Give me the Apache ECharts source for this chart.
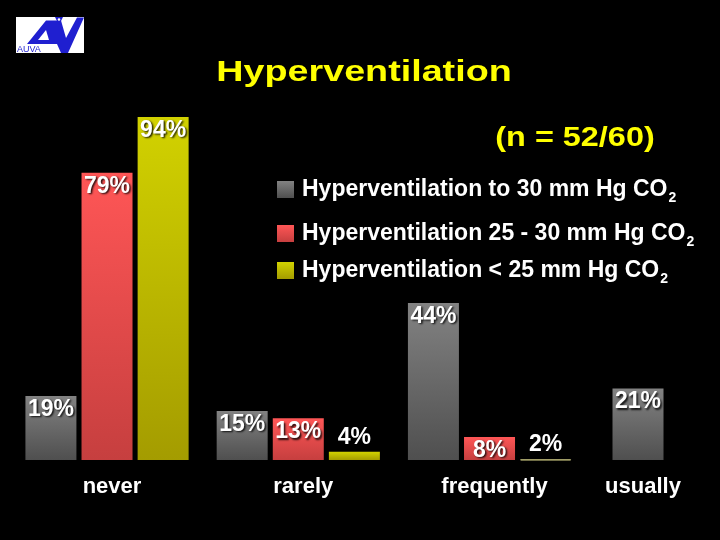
<!DOCTYPE html>
<html>
<head>
<meta charset="utf-8">
<script src="https://cdn.jsdelivr.net/npm/echarts@6/dist/echarts.min.js"></script>
<style>html,body{margin:0;padding:0;background:#000;}#c{width:720px;height:540px;}</style>
</head>
<body>
<div id="c"></div>
<script>
// ---- data ----
var categories = ['never', 'rarely', 'frequently'];
var extraCategory = ['usually'];
var seriesNames = ['Hyperventilation to 30 mm Hg CO2', 'Hyperventilation 25 - 30 mm Hg CO2', 'Hyperventilation < 25 mm Hg CO2'];
var greyValues = [19, 15, 44];
var redValues = [79, 13, 8];
var yellowValues = [94, 4, 2];
var usuallyGrey = [21];
var titleText = 'Hyperventilation';
var subtitleText = '(n = 52/60)';

// ---- styles ----
var FONT = 'Liberation Sans, Arial, sans-serif';
function grad(top, bottom) {
  return new echarts.graphic.LinearGradient(0, 0, 0, 1, [{offset: 0, color: top}, {offset: 1, color: bottom}]);
}
var colors = [grad('#828282', '#4f4f4f'), grad('#ff5656', '#c63f3f'), grad('#d2d200', '#a49c00')];
var thinColors = ['#6a6a6a', '#d04848', '#b2ae72'];

function labelFor(v) {
  return {
    show: true,
    position: v < 6 ? 'top' : 'insideTop',
    distance: v < 6 ? 3 : 2,
    formatter: '{c}%',
    color: '#fff',
    fontFamily: FONT,
    fontWeight: 'bold',
    fontSize: 23,
    textShadowColor: 'rgba(0,0,0,0.85)',
    textShadowBlur: 2,
    textShadowOffsetX: 1.5,
    textShadowOffsetY: 1.5
  };
}
function toData(arr, si) {
  return arr.map(function (v) {
    var d = {value: v, label: labelFor(v)};
    if (v < 3) d.itemStyle = {color: thinColors[si], borderColor: thinColors[si], borderWidth: 1};
    return d;
  });
}

var valueAxis = function (gi) {
  return {type: 'value', gridIndex: gi, min: 1.8, max: 100, show: false, splitLine: {show: false}};
};
var catAxis = function (gi, data) {
  return {
    type: 'category', gridIndex: gi, data: data,
    axisLine: {show: false}, axisTick: {show: false},
    axisLabel: {color: '#fff', fontFamily: FONT, fontWeight: 'bold', fontSize: 22, margin: 16, padding: [0, 0, 0, 10]}
  };
};

function legendFor(name, top) {
  return {
    data: [name], left: 272, top: top, icon: 'rect', itemWidth: 17, itemHeight: 17,
    selectedMode: false,
    formatter: function (n) { return n.replace(/CO2$/, 'CO{sub|2}'); },
    textStyle: {
      color: '#fff', fontFamily: FONT, fontWeight: 'bold', fontSize: 23, padding: [0, 0, 0, 3],
      rich: {sub: {color: '#fff', fontFamily: FONT, fontWeight: 'bold', fontSize: 14, verticalAlign: 'bottom', padding: [0, 0, -4, 1]}}
    }
  };
}

var barBase = {barWidth: 51, barGap: '10%', animation: false};

var option = {
  backgroundColor: '#000',
  animation: false,
  grid: [
    {left: 11.4, width: 573.75, top: 94.6, bottom: 80},
    {left: 590, width: 96, top: 94.6, bottom: 80}
  ],
  xAxis: [catAxis(0, categories), catAxis(1, extraCategory)],
  yAxis: [valueAxis(0), valueAxis(1)],
  legend: [legendFor(seriesNames[0], 173), legendFor(seriesNames[1], 217), legendFor(seriesNames[2], 254)],
  series: [
    Object.assign({type: 'bar', name: seriesNames[0], xAxisIndex: 0, yAxisIndex: 0, data: toData(greyValues, 0), itemStyle: {color: colors[0]}}, barBase),
    Object.assign({type: 'bar', name: seriesNames[1], xAxisIndex: 0, yAxisIndex: 0, data: toData(redValues, 1), itemStyle: {color: colors[1]}}, barBase),
    Object.assign({type: 'bar', name: seriesNames[2], xAxisIndex: 0, yAxisIndex: 0, data: toData(yellowValues, 2), barMinHeight: 2, itemStyle: {color: colors[2]}}, barBase),
    Object.assign({type: 'bar', name: seriesNames[0], xAxisIndex: 1, yAxisIndex: 1, data: toData(usuallyGrey, 0), itemStyle: {color: colors[0]}}, barBase)
  ],
  graphic: [
    {type: 'text', x: 364, y: 73, scaleX: 1.3, silent: true,
     style: {text: titleText, fill: '#ffff00', font: 'bold 29px ' + FONT, textAlign: 'center', textVerticalAlign: 'middle'}},
    {type: 'text', x: 575, y: 139, scaleX: 1.2, silent: true,
     style: {text: subtitleText, fill: '#ffff00', font: 'bold 27px ' + FONT, textAlign: 'center', textVerticalAlign: 'middle'}},
    // logo
    {type: 'group', silent: true, children: [
      {type: 'rect', shape: {x: 16, y: 17, width: 68, height: 36}, style: {fill: '#ffffff'}},
      {type: 'polygon', shape: {points: [[27, 44], [46, 20.5], [61, 20.5], [66, 38], [77, 17.5], [84, 17.5], [68, 53], [61, 53], [57, 44]]}, style: {fill: '#1f1fd0'}},
      {type: 'polygon', shape: {points: [[38, 40], [46, 30], [49, 40]]}, style: {fill: '#ffffff'}},
      {type: 'polygon', shape: {points: [[55, 17], [63, 17], [59, 25]]}, style: {fill: '#1f1fd0'}},
      {type: 'circle', shape: {cx: 59, cy: 19.5, r: 1.3}, style: {fill: '#ffffff'}},
      {type: 'text', x: 17, y: 45, style: {text: 'AUVA', fill: '#1f1fd0', font: '9px ' + FONT}}
    ]}
  ]
};

var chart = echarts.init(document.getElementById('c'), null, {renderer: 'canvas'});
chart.setOption(option);
</script>
</body>
</html>
